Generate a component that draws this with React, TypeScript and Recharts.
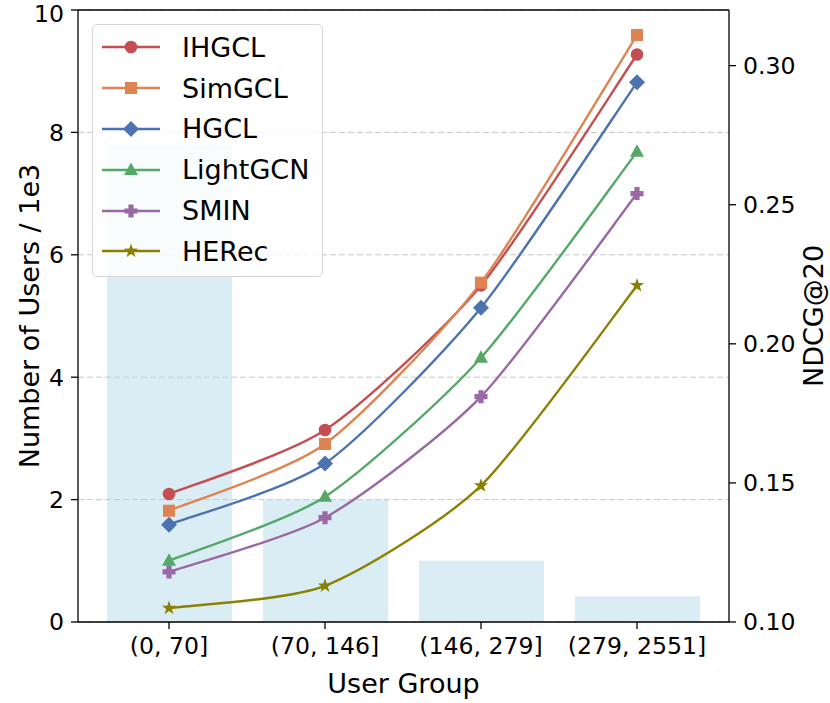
import React from "react";
import {
  Bar,
  CartesianGrid,
  ComposedChart,
  Line,
  ReferenceLine,
  XAxis,
  YAxis,
} from "recharts";

// user groups (interaction-count buckets)
const groups = ["(0, 70]", "(70, 146]", "(146, 279]", "(279, 2551]"];
// number of users per group, in thousands
const users = [7.8, 2.0, 1.0, 0.42];

// NDCG@20 per model
const ihgcl = [0.146, 0.169, 0.221, 0.304];
const simgcl = [0.140, 0.164, 0.222, 0.311];
const hgcl = [0.135, 0.157, 0.213, 0.294];
const lightgcn = [0.122, 0.145, 0.195, 0.269];
const smin = [0.118, 0.1375, 0.181, 0.254];
const herec = [0.105, 0.113, 0.149, 0.221];

const leftTicks = [0, 2, 4, 6, 8, 10];
const rightTicks = [0.1, 0.15, 0.2, 0.25, 0.3];

const FONT = "'DejaVu Sans', sans-serif";

const series = [
  { key: "IHGCL", values: ihgcl, color: "#C44E52", shape: "circle" },
  { key: "SimGCL", values: simgcl, color: "#DD8452", shape: "square" },
  { key: "HGCL", values: hgcl, color: "#4C72B0", shape: "diamond" },
  { key: "LightGCN", values: lightgcn, color: "#55A868", shape: "triangle" },
  { key: "SMIN", values: smin, color: "#9A68A4", shape: "plus" },
  { key: "HERec", values: herec, color: "#8A8100", shape: "star" },
];

const data = groups.map((g, i) => {
  const row: any = { group: g, users: users[i] };
  series.forEach((s) => {
    row[s.key] = s.values[i];
  });
  return row;
});

// light cardinal spline (d3 curve interface), a bit stiffer than catmull-rom
const cardinal = (tension: number) => (context: any) => {
  let pts: number[][] = [];
  return {
    areaStart() {},
    areaEnd() {},
    lineStart() {
      pts = [];
    },
    point(x: number, y: number) {
      pts.push([+x, +y]);
    },
    lineEnd() {
      const n = pts.length;
      if (!n) return;
      const k = (1 - tension) / 6;
      context.moveTo(pts[0][0], pts[0][1]);
      for (let i = 0; i < n - 1; i++) {
        const p0 = pts[Math.max(i - 1, 0)];
        const p1 = pts[i];
        const p2 = pts[i + 1];
        const p3 = pts[Math.min(i + 2, n - 1)];
        context.bezierCurveTo(
          p1[0] + k * (p2[0] - p0[0]),
          p1[1] + k * (p2[1] - p0[1]),
          p2[0] - k * (p3[0] - p1[0]),
          p2[1] - k * (p3[1] - p1[1]),
          p2[0],
          p2[1]
        );
      }
    },
  };
};
const smoothCurve = cardinal(0.3);

const Marker = ({ shape, cx, cy, color }) => {
  if (cx == null || cy == null) return null;
  switch (shape) {
    case "circle":
      return <circle cx={cx} cy={cy} r={6.3} fill={color} />;
    case "square":
      return <rect x={cx - 6} y={cy - 6} width={12} height={12} fill={color} />;
    case "diamond":
      return (
        <polygon
          points={`${cx},${cy - 8} ${cx + 8},${cy} ${cx},${cy + 8} ${cx - 8},${cy}`}
          fill={color}
        />
      );
    case "triangle":
      return (
        <polygon
          points={`${cx},${cy - 7.5} ${cx + 7},${cy + 5} ${cx - 7},${cy + 5}`}
          fill={color}
        />
      );
    case "plus": {
      const a = 2.6;
      const e = 6.5;
      return (
        <path
          d={`M${cx - a},${cy - e}H${cx + a}V${cy - a}H${cx + e}V${cy + a}H${cx + a}V${cy + e}H${cx - a}V${cy + a}H${cx - e}V${cy - a}H${cx - a}Z`}
          fill={color}
        />
      );
    }
    case "star": {
      const pts = [];
      for (let k = 0; k < 10; k++) {
        const r = k % 2 === 0 ? 7.5 : 3;
        const ang = -Math.PI / 2 + (k * Math.PI) / 5;
        pts.push(`${cx + r * Math.cos(ang)},${cy + r * Math.sin(ang)}`);
      }
      return <polygon points={pts.join(" ")} fill={color} />;
    }
    default:
      return null;
  }
};

const ChartLegend = () => (
  <div
    style={{
      position: "absolute",
      left: 92,
      top: 24,
      width: 231,
      height: 253,
      boxSizing: "border-box",
      background: "rgba(255,255,255,0.8)",
      border: "1.5px solid #d6d6d6",
      borderRadius: 5,
      paddingTop: 2,
      fontFamily: FONT,
    }}
  >
    {series.map((s) => (
      <div
        key={s.key}
        style={{ height: 40.8, display: "flex", alignItems: "center" }}
      >
        <svg width={58} height={20} style={{ marginLeft: 9 }}>
          <line x1={0} y1={10} x2={58} y2={10} stroke={s.color} strokeWidth={2.4} />
          <Marker shape={s.shape} cx={29} cy={10} color={s.color} />
        </svg>
        <span style={{ marginLeft: 22, fontSize: 27, color: "#000", lineHeight: 1 }}>
          {s.key}
        </span>
      </div>
    ))}
  </div>
);

export default function App() {
  return (
    <div style={{ position: "relative", width: 830, height: 703, background: "#fff" }}>
      <style>{`body{margin:0}`}</style>
      <ComposedChart
        width={830}
        height={703}
        data={data}
        margin={{ top: 10, right: 0, bottom: 0, left: 0 }}
        style={{ fontFamily: FONT }}
      >
        <CartesianGrid
          yAxisId="l"
          vertical={false}
          stroke="#c8c8c8"
          strokeDasharray="6 3"
        />
        <XAxis
          dataKey="group"
          height={81}
          padding={{ left: 13, right: 14 }}
          tickSize={7}
          tickMargin={8}
          stroke="#000"
          strokeWidth={1.3}
          tick={{ fontSize: 23.6, fill: "#000" }}
          label={{
            value: "User Group",
            position: "insideBottom",
            offset: 10,
            style: { fontSize: 27, fill: "#000" },
          }}
        />
        <YAxis
          yAxisId="l"
          orientation="left"
          width={78}
          domain={[0, 10]}
          ticks={leftTicks}
          tickSize={7}
          tickMargin={7}
          stroke="#000"
          strokeWidth={1.3}
          tick={{ fontSize: 23.6, fill: "#000" }}
          label={{
            value: "Number of Users / 1e3",
            angle: -90,
            position: "insideLeft",
            offset: 29,
            style: { fontSize: 27, fill: "#000", textAnchor: "middle" },
          }}
        />
        <YAxis
          yAxisId="r"
          orientation="right"
          width={101}
          domain={[0.1, 0.32]}
          ticks={rightTicks}
          tickFormatter={(v) => v.toFixed(2)}
          tickSize={7}
          tickMargin={7}
          stroke="#000"
          strokeWidth={1.3}
          tick={{ fontSize: 23.6, fill: "#000" }}
          label={{
            value: "NDCG@20",
            angle: -90,
            position: "insideRight",
            offset: 17,
            style: { fontSize: 27, fill: "#000", textAnchor: "middle" },
          }}
        />
        <Bar
          yAxisId="l"
          dataKey="users"
          barSize={125}
          fill="#ADD8E6"
          fillOpacity={0.45}
          isAnimationActive={false}
        />
        <ReferenceLine yAxisId="l" y={10} stroke="#000" strokeWidth={1.3} />
        {series.map((s) => (
          <Line
            key={s.key}
            yAxisId="r"
            type={smoothCurve as any}
            dataKey={s.key}
            stroke={s.color}
            strokeWidth={2.4}
            isAnimationActive={false}
            dot={(p: any) => (
              <Marker
                key={`${s.key}-${p.index}`}
                shape={s.shape}
                cx={p.cx}
                cy={p.cy}
                color={s.color}
              />
            )}
            activeDot={false}
          />
        ))}
      </ComposedChart>
      <ChartLegend />
    </div>
  );
}
